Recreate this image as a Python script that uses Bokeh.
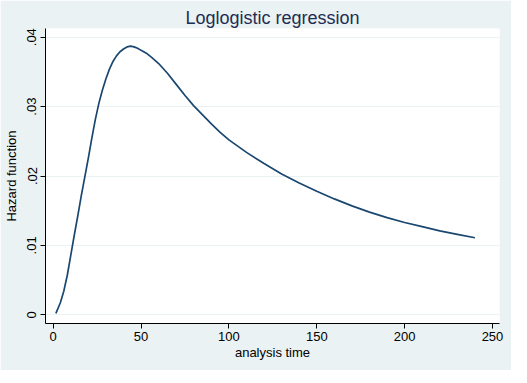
from bokeh.plotting import figure
from bokeh.models import FixedTicker, CustomJSTickFormatter, Range1d
from bokeh.embed import file_html
from bokeh.resources import INLINE

# Data
analysis_time = [1.5, 4, 6, 8, 10, 12, 14, 16, 18, 20, 22, 24, 26, 28, 30, 32, 34, 36,
                 38, 40, 42, 44, 46, 48, 50, 53, 56, 60, 65, 70, 75, 80, 85, 90, 95,
                 100, 110, 120, 130, 140, 150, 160, 170, 180, 190, 200, 210, 220,
                 230, 240]
hazard = [0.0002, 0.0017, 0.0034, 0.0057, 0.0086, 0.0115, 0.0143, 0.0172, 0.0199,
          0.0226, 0.0255, 0.0282, 0.0305, 0.0324, 0.0340, 0.0354, 0.0365, 0.0373,
          0.0379, 0.0383, 0.0386, 0.0387, 0.0386, 0.0384, 0.0381, 0.0377, 0.0371,
          0.0362, 0.0348, 0.0332, 0.0316, 0.0301, 0.0288, 0.0275, 0.0263, 0.0252,
          0.0234, 0.0218, 0.0203, 0.0190, 0.0178, 0.0167, 0.0157, 0.0148, 0.0140,
          0.0133, 0.0127, 0.0121, 0.0116, 0.0111]
x_ticks = [0, 50, 100, 150, 200, 250]
y_ticks = [0, 0.01, 0.02, 0.03, 0.04]

BG = "#EAF2F3"
FONT = "Liberation Sans"

p = figure(width=511, height=370, output_backend="svg", toolbar_location=None,
           x_range=Range1d(-4.4, 254), y_range=Range1d(-0.00125, 0.04125),
           min_border_left=43, min_border_right=12, min_border_top=28,
           min_border_bottom=47)
p.background_fill_color = "white"
p.border_fill_color = BG
p.outline_line_color = None

p.title.text = "Loglogistic regression"
p.title.align = "center"
p.title.text_font = FONT
p.title.text_font_size = "18px"
p.title.text_font_style = "normal"
p.title.text_color = "#1E2D53"
p.title.standoff = 2

p.line(analysis_time, hazard, line_color="#1A476F", line_width=1.7)

p.xaxis.ticker = FixedTicker(ticks=x_ticks)
p.yaxis.ticker = FixedTicker(ticks=y_ticks)
p.yaxis.formatter = CustomJSTickFormatter(
    code="return tick == 0 ? '0' : tick.toFixed(2).replace(/^0/, '');")

for ax in (p.xaxis, p.yaxis):
    ax.axis_line_color = "black"
    ax.major_tick_line_color = "black"
    ax.major_tick_out = 5
    ax.major_tick_in = 0
    ax.minor_tick_line_color = None
    ax.major_label_text_font = FONT
    ax.major_label_text_font_size = "13px"
    ax.major_label_text_color = "black"
    ax.axis_label_text_font = FONT
    ax.axis_label_text_font_size = "13px"
    ax.axis_label_text_font_style = "normal"
    ax.axis_label_text_color = "black"

p.xaxis.axis_label = "analysis time"
p.yaxis.axis_label = "Hazard function"
p.yaxis.major_label_orientation = "vertical"
p.xaxis.major_label_standoff = 3
p.xaxis.axis_label_standoff = 1
p.yaxis.major_label_standoff = 4
p.yaxis.axis_label_standoff = 6

p.xgrid.grid_line_color = None
p.ygrid.grid_line_color = BG
p.ygrid.grid_line_width = 1

open("out.html", "w").write(file_html(p, INLINE))
